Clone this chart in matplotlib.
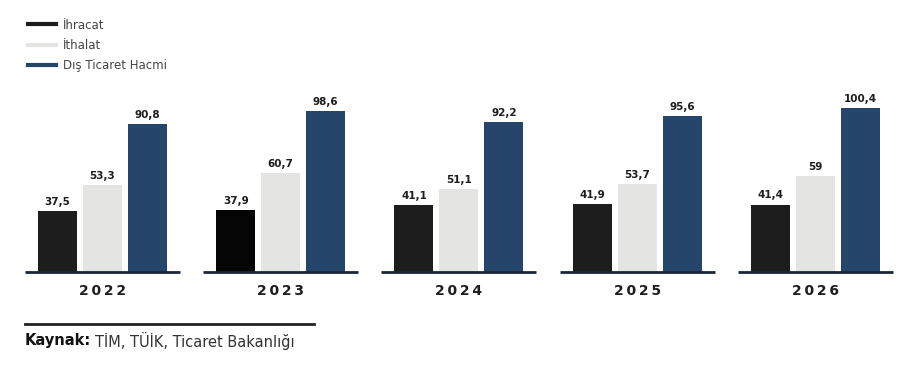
import numpy as np
import matplotlib.pyplot as plt
from matplotlib.lines import Line2D

# data
years = ['2022', '2023', '2024', '2025', '2026']
ihracat = [37.5, 37.9, 41.1, 41.9, 41.4]
ithalat = [53.3, 60.7, 51.1, 53.7, 59.0]
hacim = [90.8, 98.6, 92.2, 95.6, 100.4]
labels_ihr = ['37,5', '37,9', '41,1', '41,9', '41,4']
labels_ith = ['53,3', '60,7', '51,1', '53,7', '59']
labels_hac = ['90,8', '98,6', '92,2', '95,6', '100,4']

c_ihr = '#1d1d1d'
c_ith = '#e4e5e2'
c_hac = '#25466a'

W, H = 911, 381
fig = plt.figure(figsize=(W/100, H/100), dpi=100)
plt.rcParams['font.family'] = ['DejaVu Sans']

# axes: baseline at y=272px from top
base_px = 272
scale = 1.63  # px per unit
ax = fig.add_axes([0, (H-base_px)/H, 1, (base_px-80)/H])
step = 178.25
x0 = 102.5
ax.set_xlim(-x0/step, (W-x0)/step)
ax.set_ylim(0, (base_px-80)/scale)
ax.axis('off')

x = np.arange(len(years))
bw = 39/step
off = 45/step
bars1 = ax.bar(x-off, ihracat, bw, color=[c_ihr, '#050505', c_ihr, c_ihr, c_ihr])
bars2 = ax.bar(x, ithalat, bw, color=c_ith)
bars3 = ax.bar(x+off, hacim, bw, color=c_hac)

for bars, labs in [(bars1, labels_ihr), (bars2, labels_ith), (bars3, labels_hac)]:
    for b, l in zip(bars, labs):
        ax.annotate(l, (b.get_x()+b.get_width()/2, b.get_height()),
                    xytext=(0, 3), textcoords='offset points', ha='center', va='bottom',
                    fontsize=7.5, fontweight='bold', color='#1d1d1d')

half = 77.5/step
for i, yr in enumerate(years):
    ax.plot([i-half, i+half], [0, 0], color='#1b2638', lw=2, solid_capstyle='butt', clip_on=False)
    ax.text(i, -19/scale, '\u2009'.join(list(yr)), ha='center', va='center',
            fontsize=10, fontweight='bold', color='#1d1d1d')

# legend
handles = [Line2D([], [], color=c_ihr, lw=3),
           Line2D([], [], color=c_ith, lw=3),
           Line2D([], [], color=c_hac, lw=3)]
fig.legend(handles, ['İhracat', 'İthalat', 'Dış Ticaret Hacmi'], loc='upper left',
           bbox_to_anchor=(17/W, 1-8/H), frameon=False, fontsize=8.5, handlelength=2.4,
           handletextpad=0.6, labelspacing=0.6, labelcolor='#444444')

# footer
fig.add_artist(Line2D([25/W, 314/W], [1-324/H, 1-324/H], color='#222222', lw=2))
t = fig.text(25/W, 1-341/H, 'Kaynak:', fontsize=10.5, fontweight='bold', color='#111111', va='center')
fig.canvas.draw()
bb = t.get_window_extent()
fig.text(bb.x1/W + 4/W, 1-341/H, 'TİM, TÜİK, Ticaret Bakanlığı', fontsize=10.5, color='#333333', va='center')

fig.savefig('out.png', dpi=100)
